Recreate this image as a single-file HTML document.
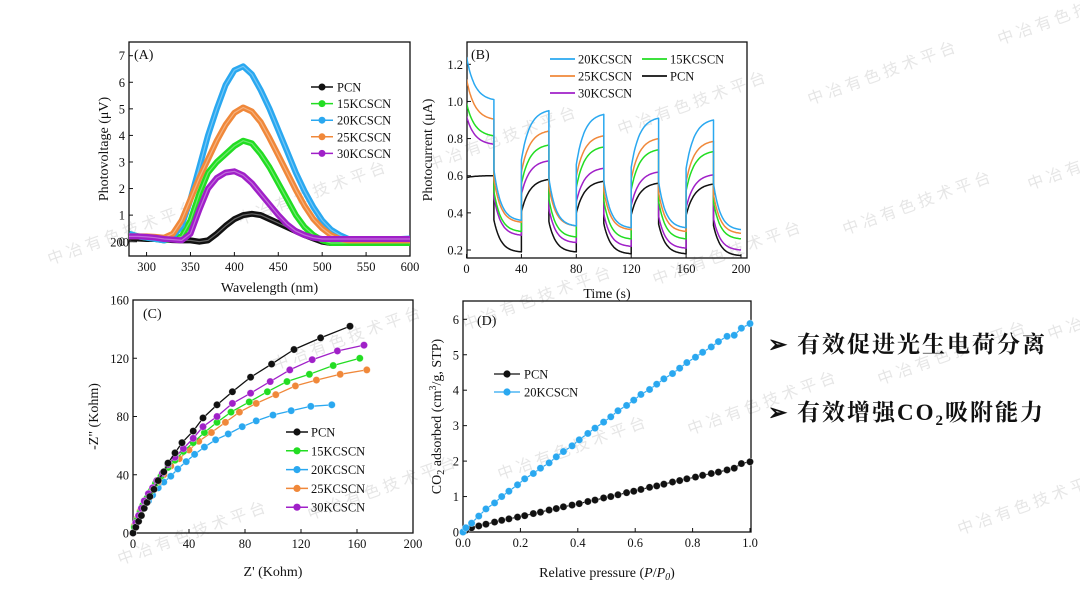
<!DOCTYPE html>
<html><head><meta charset="utf-8"><style>
html,body{margin:0;padding:0;background:#fff;}
svg{display:block;font-family:"Liberation Serif","Noto Serif CJK SC",serif;}
</style></head><body>
<svg id="s" width="1080" height="607" viewBox="0 0 1080 607"></svg>
<script>
// ---- Panel A data ----
const wlA=[280,290,300,310,320,330,340,350,360,370,380,390,400,410,420,430,440,450,460,470,480,490,500,510,520,530,540,550,560,570,580,590,600];
const pvPCN=[0.15,0.12,0.1,0.1,0.08,0.06,0.05,0.05,0.0,0.05,0.3,0.6,0.85,1.0,1.05,1.0,0.85,0.7,0.55,0.4,0.25,0.12,0.0,-0.05,-0.05,-0.05,-0.05,-0.05,-0.05,-0.04,-0.04,-0.03,-0.03];
const pv15=[0.3,0.2,0.15,0.1,0.05,0.1,0.2,0.8,1.8,2.6,3.0,3.3,3.6,3.8,3.7,3.3,2.8,2.2,1.6,1.0,0.55,0.25,0.05,-0.05,-0.05,-0.05,-0.05,-0.05,-0.05,-0.05,-0.05,-0.05,-0.05];
const pv20=[0.3,0.2,0.15,0.1,0.05,0.2,0.6,1.6,2.8,4.0,5.0,5.9,6.45,6.6,6.3,5.7,5.0,4.2,3.4,2.6,1.9,1.3,0.8,0.45,0.25,0.1,0.1,0.1,0.1,0.1,0.1,0.1,0.12];
const pv25=[0.2,0.2,0.2,0.18,0.15,0.3,0.8,1.6,2.4,3.1,3.8,4.4,4.85,5.05,4.9,4.5,3.9,3.25,2.6,1.95,1.35,0.85,0.5,0.25,0.1,0.05,0.05,0.05,0.05,0.05,0.05,0.05,0.05];
const pv30=[0.2,0.2,0.18,0.15,0.1,0.08,0.05,0.3,1.2,2.0,2.4,2.6,2.65,2.5,2.2,1.8,1.4,1.0,0.65,0.4,0.25,0.15,0.1,0.1,0.1,0.1,0.1,0.1,0.1,0.1,0.1,0.1,0.1];
const ticksA_x=[300,350,400,450,500,550,600];
const ticksA_y=[0,1,2,3,4,5,6,7];
// ---- Panel B data (start, end of first on; then off-low / on-peak alternating) ----
const lvB20=[1.24,1.01,0.36,0.95,0.33,0.93,0.32,0.91,0.32,0.90,0.31];
const lvB25=[1.12,0.905,0.35,0.84,0.33,0.815,0.31,0.80,0.30,0.785,0.29];
const lvB15=[0.99,0.815,0.30,0.765,0.27,0.755,0.26,0.74,0.26,0.73,0.26];
const lvB30=[0.92,0.77,0.28,0.68,0.24,0.64,0.22,0.62,0.21,0.605,0.20];
const lvBPCN=[0.59,0.60,0.19,0.58,0.19,0.57,0.18,0.56,0.18,0.555,0.17];
const ticksB_x=[0,40,80,120,160,200];
const ticksB_y=[0.2,0.4,0.6,0.8,1.0,1.2];
// ---- Panel C data ----
const zrPCN=[0,2,4,6,8,10,12,15,18,22,25,30,35,43,50,60,71,84,99,115,134,155];
const ziPCN=[0,4,8,12,17,21,25,30,36,42,48,55,62,70,79,88,97,107,116,126,134,142];
const zr30=[0,2,4,6,8,11,14,17,21,25,30,36,43,50,60,71,84,98,112,128,146,165];
const zi30=[0,7,12,17,22,27,31,36,41,47,52,58,65,73,80,89,96,104,112,119,125,129];
const zr15=[0,1,3,5,7,10,13,16,20,25,30,36,43,51,60,70,83,96,110,126,143,162];
const zi15=[0,4,9,14,19,24,29,34,39,45,50,56,62,69,76,83,90,97,104,109,115,120];
const zr25=[0,1,3,5,8,11,14,18,22,27,33,40,47,56,66,76,88,102,116,131,148,167];
const zi25=[0,5,10,15,20,25,30,35,40,46,51,57,63,69,76,83,89,95,101,105,109,112];
const zr20=[0,1,3,5,8,11,14,18,22,27,32,38,44,51,59,68,78,88,100,113,127,142];
const zi20=[0,4,8,12,17,22,26,31,35,39,44,49,54,59,64,68,73,77,81,84,87,88];
const ticksC=[0,40,80,120,160,200];
// ---- Panel D data ----
const prD=[0,0.01,0.03,0.055,0.08,0.11,0.135,0.16,0.19,0.215,0.245,0.27,0.3,0.325,0.35,0.38,0.405,0.435,0.46,0.49,0.515,0.54,0.57,0.595,0.62,0.65,0.675,0.7,0.73,0.755,0.78,0.81,0.835,0.865,0.89,0.92,0.945,0.97,1.0];
const adPCN=[0,0.05,0.12,0.17,0.22,0.28,0.33,0.37,0.42,0.46,0.52,0.56,0.62,0.66,0.71,0.76,0.8,0.86,0.9,0.96,1.0,1.05,1.11,1.15,1.2,1.26,1.3,1.35,1.41,1.45,1.5,1.55,1.6,1.65,1.69,1.75,1.8,1.93,1.98];
const ad20=[0,0.12,0.25,0.45,0.65,0.82,1.0,1.15,1.33,1.5,1.65,1.8,1.95,2.12,2.27,2.43,2.6,2.78,2.93,3.1,3.25,3.42,3.57,3.72,3.88,4.02,4.17,4.32,4.47,4.62,4.78,4.93,5.07,5.22,5.37,5.52,5.55,5.75,5.88];
const ticksD_x=[0,0.2,0.4,0.6,0.8,1.0];
const ticksD_y=[0,1,2,3,4,5,6];

const C={k:'#111',g:'#22dd22',b:'#2aa8f0',o:'#f0883a',p:'#a020c8'};
const S=document.getElementById('s');
const NS='http://www.w3.org/2000/svg';
function mk(tag,at,parent){const e=document.createElementNS(NS,tag);for(const k in at)e.setAttribute(k,at[k]);(parent||S).appendChild(e);return e;}
function txt(x,y,t,size,anchor,parent){const e=mk('text',{x:x,y:y,'font-size':size,'text-anchor':anchor||'middle',fill:'#111'},parent);e.textContent=t;return e;}
function lin(d0,d1,r0,r1){return v=>r0+(v-d0)/(d1-d0)*(r1-r0);}

// ===== Watermarks (behind) =====
[[1000,45],[810,105],[620,135],[430,170],[240,225],[50,265],[1030,190],[845,235],[655,285],[465,330],[275,370],[880,385],[690,435],[500,480],[310,520],[120,565],[1050,340],[960,535]].forEach(p=>{
  const w=mk('text',{x:p[0],y:p[1],'font-size':16,fill:'#c8c8c8','fill-opacity':0.45,transform:`rotate(-20 ${p[0]} ${p[1]})`,'font-family':'"Noto Sans CJK SC",sans-serif','letter-spacing':'4'});
  w.textContent='中冶有色技术平台';
  
  
});

function axes(name,L,T,R,B,sx,sy,xt,yt,fmtx,fmty,xlab,ylab,ylabX,xlabY){
  const g=mk('g',{});
  
  
  mk('rect',{x:L,y:T,width:R-L,height:B-T,fill:'none',stroke:'#111','stroke-width':1.3},g);
  xt.forEach(v=>{const x=sx(v);mk('line',{x1:x,y1:B,x2:x,y2:B-4,stroke:'#111'},g);const t=txt(x,B+15,fmtx(v),12.5,'middle',g);});
  yt.forEach(v=>{const y=sy(v);mk('line',{x1:L,y1:y,x2:L+4,y2:y,stroke:'#111'},g);const t=txt(L-4,y+4.5,fmty(v),12.5,'end',g);});
  const xl=mk('text',{x:(L+R)/2,y:xlabY,'font-size':14,'text-anchor':'middle',fill:'#111'},g);xl.innerHTML=xlab;
  
  const yl=mk('text',{x:0,y:0,'font-size':14,'text-anchor':'middle',fill:'#111',transform:`translate(${ylabX},${(T+B)/2}) rotate(-90)`},g);yl.innerHTML=ylab;
  
  return g;
}
function path(pts,color,w,name,clip){const d='M'+pts.map(p=>p[0].toFixed(1)+','+p[1].toFixed(1)).join('L');const e=mk('path',{d:d,fill:'none',stroke:color,'stroke-width':w,'stroke-linejoin':'round','clip-path':clip||''});return e;}
function marker(x,y,c,r){return mk('circle',{cx:x,cy:y,r:r,fill:c,stroke:'#fff','stroke-width':0.6,'stroke-opacity':0.5});}

const defs=mk('defs',{});
[['cA',129,42,281,214],['cB',467,42,280,216],['cC',133,300,280,233],['cD',463,301,288,231]].forEach(a=>{const cp=mk('clipPath',{id:a[0]},defs);mk('rect',{x:a[1],y:a[2],width:a[3],height:a[4]},cp);});

// ===== Panel A =====
(function(){
  const sx=lin(280,600,129,410), sy=lin(0,7,241.7,55.7);
  axes('panel-a-axes',129,42,410,256,sx,sy,ticksA_x,ticksA_y,v=>v,v=>v,'Wavelength (nm)','Photovoltage (μV)',108,292);
  txt(134,59,'(A)',14,'start');
  const ser=[[pvPCN,C.k,'PCN'],[pv15,C.g,'15KCSCN'],[pv20,C.b,'20KCSCN'],[pv25,C.o,'25KCSCN'],[pv30,C.p,'30KCSCN']];
  ser.forEach((s,i)=>{
    const pts=wlA.map((w,j)=>[sx(w),sy(s[0][j])]);
    path(pts,s[1],6,'series-a-'+s[2].toLowerCase(),'url(#cA)');
    path(pts,'#ffffff',1.2,'series-a-highlight','url(#cA)').setAttribute('stroke-opacity',0.35);
    const y=87+i*16.6;
    const lg=mk('g',{});
    mk('line',{x1:311,y1:y,x2:333,y2:y,stroke:s[1],'stroke-width':1.5},lg);
    mk('circle',{cx:322,cy:y,r:3.5,fill:s[1]},lg);
    txt(337,y+4.5,s[2],12.5,'start',lg);
  });
})();

// ===== Panel B =====
(function(){
  const sx=lin(0,200,466.5,741), sy=lin(0.2,1.2,250,64.3);
  axes('panel-b-axes',467,42,747,258,sx,sy,ticksB_x,ticksB_y,v=>v,v=>v.toFixed(1),'Time (s)','Photocurrent (μA)',432,298);
  txt(471,59,'(B)',14,'start');
  function curve(lv){
    const pts=[];
    for(let t=0;t<=20;t+=0.5){const f=Math.exp(-t/6);const n=(f-Math.exp(-20/6))/(1-Math.exp(-20/6));pts.push([t,lv[1]+(lv[0]-lv[1])*n]);}
    let prev=lv[1];
    for(let c=0;c<9;c++){
      const t0=20+c*20, target=lv[2+c], off=(c%2===0);
      const start= off ? target+(prev-target)*0.42 : prev+(target-prev)*0.55;
      pts.push([t0,start]);
      const tau=off?5:6;
      for(let t=0.5;t<=20;t+=0.5){const f=Math.exp(-t/tau);const n=(f-Math.exp(-20/tau))/(1-Math.exp(-20/tau));pts.push([t0+t,target+(start-target)*n]);}
      prev=target;
    }
    return pts;
  }
  const ser=[[lvBPCN,C.k,'PCN'],[lvB30,C.p,'30KCSCN'],[lvB15,C.g,'15KCSCN'],[lvB25,C.o,'25KCSCN'],[lvB20,C.b,'20KCSCN']];
  ser.forEach(s=>{path(curve(s[0]).map(p=>[sx(p[0]),sy(p[1])]),s[1],1.5,'series-b-'+s[2].toLowerCase(),'url(#cB)');});
  const leg=[[550,59,C.b,'20KCSCN'],[642,59,C.g,'15KCSCN'],[550,76,C.o,'25KCSCN'],[642,76,C.k,'PCN'],[550,93,C.p,'30KCSCN']];
  leg.forEach(l=>{const lg=mk('g',{});
    mk('line',{x1:l[0],y1:l[1],x2:l[0]+25,y2:l[1],stroke:l[2],'stroke-width':1.8},lg);txt(l[0]+28,l[1]+4.5,l[3],12.5,'start',lg);});
})();

// ===== Panel C =====
(function(){
  const sx=lin(0,200,133,413), sy=lin(0,160,533,300);
  axes('panel-c-axes',133,300,413,533,sx,sy,ticksC,ticksC,v=>v,v=>v,"Z' (Kohm)",'-Z" (Kohm)',98,576);
  txt(143,318,'(C)',14,'start');
  const ser=[[zr20,zi20,C.b,'20KCSCN'],[zr25,zi25,C.o,'25KCSCN'],[zr15,zi15,C.g,'15KCSCN'],[zr30,zi30,C.p,'30KCSCN'],[zrPCN,ziPCN,C.k,'PCN']];
  ser.forEach(s=>{const pts=s[0].map((x,j)=>[sx(x),sy(s[1][j])]);path(pts,s[2],1.3,'series-c-'+s[3].toLowerCase(),'url(#cC)');pts.forEach(p=>{const m=marker(p[0],p[1],s[2],3.6);});});
  const leg=[[C.k,'PCN'],[C.g,'15KCSCN'],[C.b,'20KCSCN'],[C.o,'25KCSCN'],[C.p,'30KCSCN']];
  leg.forEach((l,i)=>{const y=432+i*18.8;const lg=mk('g',{});
    mk('line',{x1:286,y1:y,x2:308,y2:y,stroke:l[0],'stroke-width':1.5},lg);mk('circle',{cx:297,cy:y,r:3.6,fill:l[0]},lg);txt(311,y+4.5,l[1],12.5,'start',lg);});
})();

// ===== Panel D =====
(function(){
  const sx=lin(0,1,463,750), sy=lin(0,6,532,319.3);
  axes('panel-d-axes',463,301,751,532,sx,sy,ticksD_x,ticksD_y,v=>v.toFixed(1),v=>v,'Relative pressure (<tspan font-style="italic">P</tspan>/<tspan font-style="italic">P</tspan><tspan font-size="10" dy="3" font-style="italic">0</tspan><tspan dy="-3">)</tspan>','CO<tspan font-size="10" dy="3">2</tspan><tspan dy="-3"> adsorbed (cm</tspan><tspan font-size="10" dy="-5">3</tspan><tspan dy="5">/g, STP)</tspan>',441,577);
  txt(477,325,'(D)',14,'start');
  [[adPCN,C.k,'PCN'],[ad20,C.b,'20KCSCN']].forEach(s=>{const pts=prD.map((x,j)=>[sx(x),sy(s[0][j])]);path(pts,s[1],1.2,'series-d-'+s[2].toLowerCase());pts.forEach(p=>{const m=marker(p[0],p[1],s[1],3.6);});});
  [[C.k,'PCN',374],[C.b,'20KCSCN',392]].forEach(l=>{const lg=mk('g',{});
    mk('line',{x1:494,y1:l[2],x2:520,y2:l[2],stroke:l[0],'stroke-width':1.2},lg);mk('circle',{cx:507,cy:l[2],r:3.6,fill:l[0]},lg);txt(524,l[2]+4.5,l[1],12.5,'start',lg);});
})();

// ===== Right text =====
(function(){
  const t1=mk('text',{x:768,y:352,'font-size':23,'font-weight':'bold',fill:'#111','letter-spacing':'2','font-family':'"Liberation Serif","Noto Serif CJK SC",serif'});
  t1.textContent='➢ 有效促进光生电荷分离';
  
  
  const t2=mk('text',{x:768,y:420,'font-size':23,'font-weight':'bold',fill:'#111','letter-spacing':'2','font-family':'"Liberation Serif","Noto Serif CJK SC",serif'});
  t2.innerHTML='➢ 有效增强CO<tspan font-size="15" dy="5">2</tspan><tspan dy="-5">吸附能力</tspan>';
  
  
})();
</script>
</body></html>
